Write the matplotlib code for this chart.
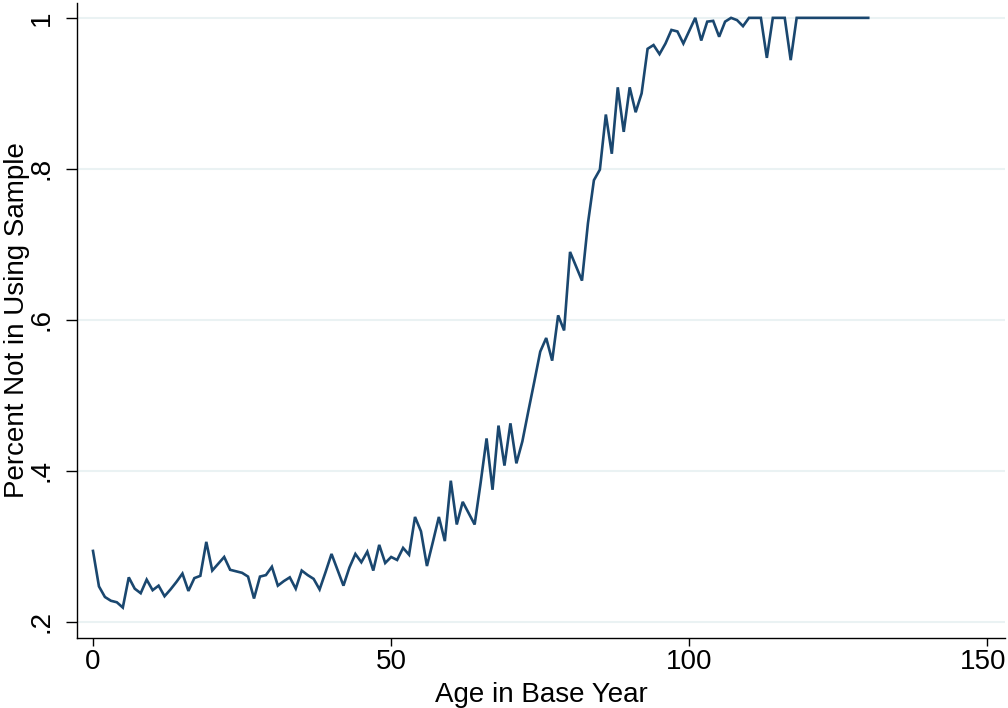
import numpy as np
import matplotlib
matplotlib.use("Agg")
import matplotlib.pyplot as plt
import matplotlib.transforms as mtransforms

plt.rcParams['font.family'] = ['Liberation Sans', 'DejaVu Sans']

# share of people not in the using sample, by age in base year
ages = list(range(0, 131))
pct_not = [
    0.294, 0.247, 0.233, 0.228, 0.226, 0.219, 0.259, 0.244, 0.238, 0.256,
    0.242, 0.248, 0.234, 0.243, 0.253, 0.264, 0.241, 0.258, 0.261, 0.306,
    0.268, 0.277, 0.286, 0.269, 0.267, 0.265, 0.260, 0.231, 0.260, 0.262,
    0.273, 0.248, 0.254, 0.259, 0.244, 0.268, 0.262, 0.257, 0.243, 0.266,
    0.290, 0.269, 0.248, 0.272, 0.290, 0.279, 0.293, 0.268, 0.302, 0.278,
    0.286, 0.282, 0.298, 0.289, 0.339, 0.320, 0.274, 0.306, 0.339, 0.307,
    0.387, 0.329, 0.359, 0.344, 0.329, 0.384, 0.443, 0.375, 0.460, 0.407,
    0.463, 0.410, 0.439, 0.479, 0.518, 0.558, 0.576, 0.546, 0.606, 0.586,
    0.690, 0.671, 0.652, 0.728, 0.785, 0.799, 0.872, 0.820, 0.908, 0.849,
    0.908, 0.875, 0.900, 0.959, 0.964, 0.952, 0.966, 0.984, 0.982, 0.966,
    0.983, 1.000, 0.970, 0.995, 0.996, 0.975, 0.995, 1.000, 0.997, 0.989,
    1.000, 1.000, 1.000, 0.947, 1.000, 1.000, 1.000, 0.944, 1.000, 1.000,
    1.000, 1.000, 1.000, 1.000, 1.000, 1.000, 1.000, 1.000, 1.000, 1.000,
    1.000,
]

xticks = [0, 50, 100, 150]
yticks = [0.2, 0.4, 0.6, 0.8, 1.0]
ytick_labels = [".2", ".4", ".6", ".8", "1"]

fig = plt.figure(figsize=(10.08, 7.08), dpi=100)
# plot region: left spine at ~77px, bottom spine at ~638px
ax = fig.add_axes([0.0764, 0.099, 0.921, 0.897])

ax.plot(ages, pct_not, color="#1a476f", lw=1.9, solid_joinstyle="miter")

ax.set_xlim(-2.68, 153.0)
ax.set_ylim(0.1788, 1.0199)

ax.set_xticks(xticks)
ax.set_yticks(yticks)
ax.set_yticklabels(ytick_labels, rotation=90, va="center")
ax.yaxis.grid(True, color="#eaf2f3", lw=1.5)
ax.set_axisbelow(True)

for side in ("top", "right"):
    ax.spines[side].set_visible(False)
ax.spines["left"].set_linewidth(1.0)
ax.spines["bottom"].set_linewidth(1.0)
ax.tick_params(direction="out", width=1.0, labelsize=20)
ax.tick_params(axis="x", length=6, pad=2)
ax.tick_params(axis="y", length=8, pad=8)

# the last x label would run past the figure edge; nudge it in a little
last = ax.get_xticklabels()[-1]
last.set_transform(last.get_transform()
                   + mtransforms.ScaledTranslation(-4 / 100, 0, fig.dpi_scale_trans))

ax.set_xlabel("Age in Base Year", fontsize=20, labelpad=5)
ax.set_ylabel("Percent Not in Using Sample", fontsize=20, labelpad=-1)

fig.savefig("out.png", dpi=100, facecolor="white")
